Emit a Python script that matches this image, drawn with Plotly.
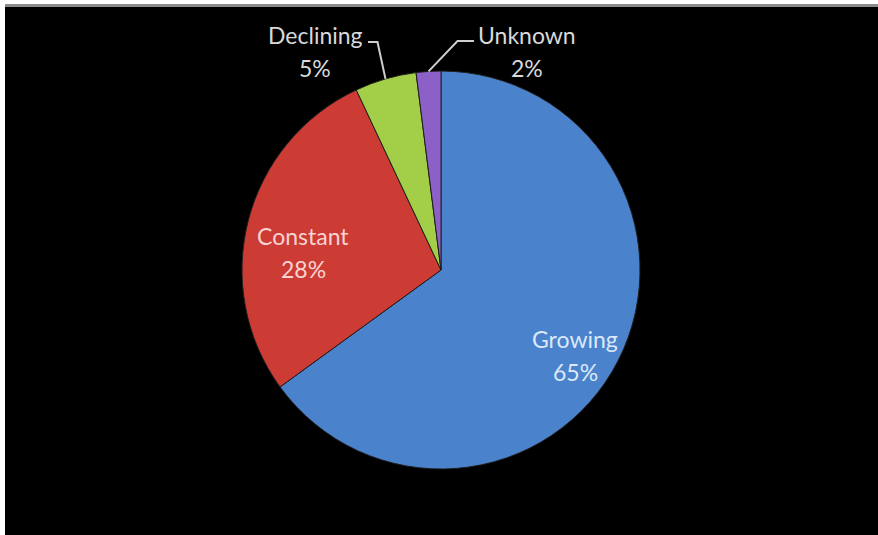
import math
import plotly.graph_objects as go

# Share of items by trend
labels = ["Growing", "Constant", "Declining", "Unknown"]
values = [65, 28, 5, 2]
colors = ["#4a82cc", "#cd3b35", "#a3cf48", "#8c60c6"]
label_colors = ["#dce8f8", "#f7d4d0", "#d9d9d9", "#d9d9d9"]

W, H = 878, 535
CX, CY, R = 441, 270, 199  # pie centre and radius in pixels
FONT = "Lato"
FONT_SIZE = 23
LINE_PITCH = 33

# label block placement (x centre, y of first line) in pixels
label_pos = {
    "Growing": (575, 339),
    "Constant": (303, 236),
    "Declining": (315, 35),
    "Unknown": (527, 35),
}
# leader lines for the small slices: elbow offset from the slice edge, elbow y, end x
leaders = {
    "Declining": dict(dx=-8, y=42, end=368),
    "Unknown": dict(dx=29, y=41, end=474),
}


def px(x):
    return x / W


def py(y):
    return 1 - y / H


fig = go.Figure()
fig.add_trace(go.Pie(
    labels=labels,
    values=values,
    sort=False,
    direction="clockwise",
    rotation=0,
    marker=dict(colors=colors, line=dict(color="#1e1e1e", width=1)),
    textinfo="none",
    domain=dict(x=[px(CX - R), px(CX + R)], y=[py(CY + R), py(CY - R)]),
    showlegend=False,
    hoverinfo="label+percent",
))

total = sum(values)
cum = 0
mid_angles = []
for v in values:
    mid_angles.append((cum + v / 2) / total * 360)
    cum += v

shapes = [
    # white frame strips along the top and left edge
    dict(type="rect", xref="paper", yref="paper", x0=0, x1=1, y0=py(0), y1=py(6),
         fillcolor="#ffffff", line=dict(width=0), layer="below"),
    dict(type="rect", xref="paper", yref="paper", x0=0, x1=1, y0=py(4), y1=py(7),
         fillcolor="#8c8c8c", line=dict(width=0), layer="below"),
    dict(type="rect", xref="paper", yref="paper", x0=0, x1=px(5), y0=0, y1=1,
         fillcolor="#ffffff", line=dict(width=0), layer="below"),
]
annotations = []
for i, lab in enumerate(labels):
    pct = f"{values[i] / total * 100:.0f}%"
    lx, ly = label_pos[lab]
    for k, line in enumerate([lab, pct]):
        annotations.append(dict(
            x=px(lx), y=py(ly + k * LINE_PITCH), xref="paper", yref="paper",
            text=line, showarrow=False, xanchor="center", yanchor="middle",
            font=dict(family=FONT, size=FONT_SIZE, color=label_colors[i]),
        ))
    if lab in leaders:
        o = leaders[lab]
        a = math.radians(mid_angles[i])
        ex0, ey0 = CX + R * math.sin(a), CY - R * math.cos(a)
        path = (f"M {px(ex0)} {py(ey0)} L {px(ex0 + o['dx'])} {py(o['y'])} "
                f"L {px(o['end'])} {py(o['y'])}")
        shapes.append(dict(type="path", xref="paper", yref="paper", path=path,
                           line=dict(color="#cfcfcf", width=2)))

fig.update_layout(
    width=W, height=H,
    margin=dict(l=0, r=0, t=0, b=0),
    paper_bgcolor="#000000",
    shapes=shapes,
    annotations=annotations,
)

fig.write_html("out.html")
